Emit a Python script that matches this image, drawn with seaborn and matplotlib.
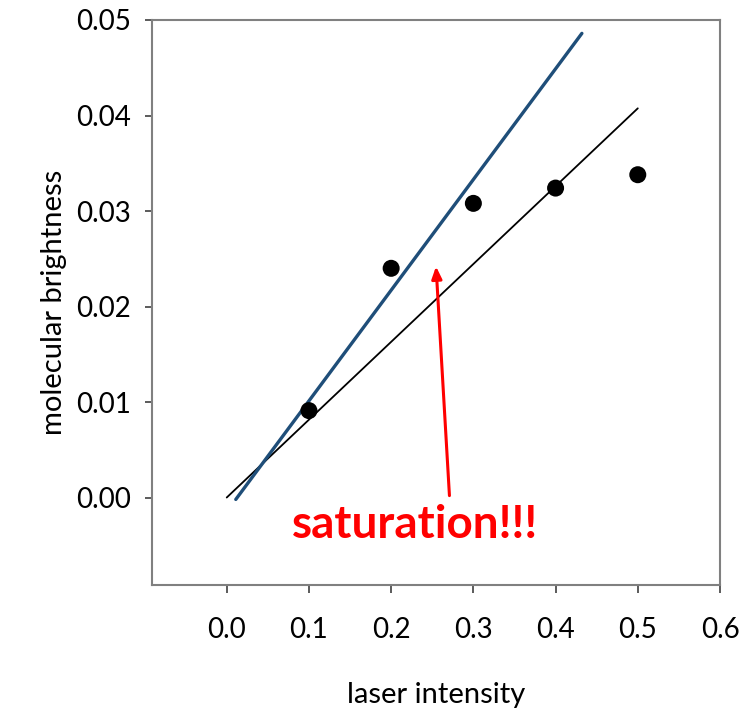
import matplotlib
matplotlib.use("Agg")
import matplotlib.pyplot as plt
import seaborn as sns
import pandas as pd

# data
laser_intensity = [0.1, 0.2, 0.3, 0.4, 0.5]
molecular_brightness = [0.0091, 0.0240, 0.0308, 0.0324, 0.0338]
fit_black_x = [0.0, 0.5]
fit_black_y = [0.0, 0.04075]
fit_blue_x = [0.011, 0.432]
fit_blue_y = [-0.0002, 0.0486]
xticks = [0.0, 0.1, 0.2, 0.3, 0.4, 0.5, 0.6]
yticks = [0.00, 0.01, 0.02, 0.03, 0.04, 0.05]
annotation_text = "saturation!!!"
arrow_tip = (0.2546, 0.0242)
arrow_tail = (0.2709, 0.0002)
text_pos = (0.2285, -0.0029)

sns.set_theme(style="white")
plt.rcParams["font.family"] = ["Lato", "DejaVu Sans"]

fig = plt.figure(figsize=(7.51, 7.09), dpi=100)
ax = fig.add_axes([152 / 751, 1 - 585 / 709, (720 - 152) / 751, (585 - 20) / 709])

df = pd.DataFrame({"x": laser_intensity, "y": molecular_brightness})
sns.lineplot(x=fit_black_x, y=fit_black_y, ax=ax, color="black", linewidth=1.3)
sns.lineplot(x=fit_blue_x, y=fit_blue_y, ax=ax, color="#1F4E79", linewidth=2.4)
sns.scatterplot(data=df, x="x", y="y", ax=ax, color="black", s=150, edgecolor="none", zorder=5)

ax.annotate("", xy=arrow_tip, xytext=arrow_tail,
            arrowprops=dict(arrowstyle="-|>,head_length=0.6,head_width=0.25",
                            color="#FF0000", lw=2.2, shrinkA=0, shrinkB=0))
ax.text(text_pos[0], text_pos[1], annotation_text, color="#FF0000", fontsize=33,
        fontweight="bold", ha="center", va="center")

ax.set_xlim(-0.0909, 0.6)
ax.set_ylim(-0.00916, 0.05)
ax.set_xticks(xticks)
ax.set_yticks(yticks)
ax.set_xticklabels([f"{v:.1f}" for v in xticks])
ax.set_yticklabels([f"{v:.2f}" for v in yticks])

for s in ax.spines.values():
    s.set_color("#808080")
    s.set_linewidth(1.5)
    s.set_visible(True)

ax.tick_params(axis="both", which="major", direction="out", color="#404040",
               width=1.2, labelsize=20, labelcolor="black")
ax.tick_params(axis="x", length=6, pad=17)
ax.tick_params(axis="y", length=5, pad=10)
ax.tick_params(bottom=True, left=True)

ax.set_xlabel("laser intensity", fontsize=21, labelpad=28, color="black")
ax.set_ylabel("molecular brightness", fontsize=21, labelpad=7, color="black")

fig.savefig("out.png", dpi=100)
